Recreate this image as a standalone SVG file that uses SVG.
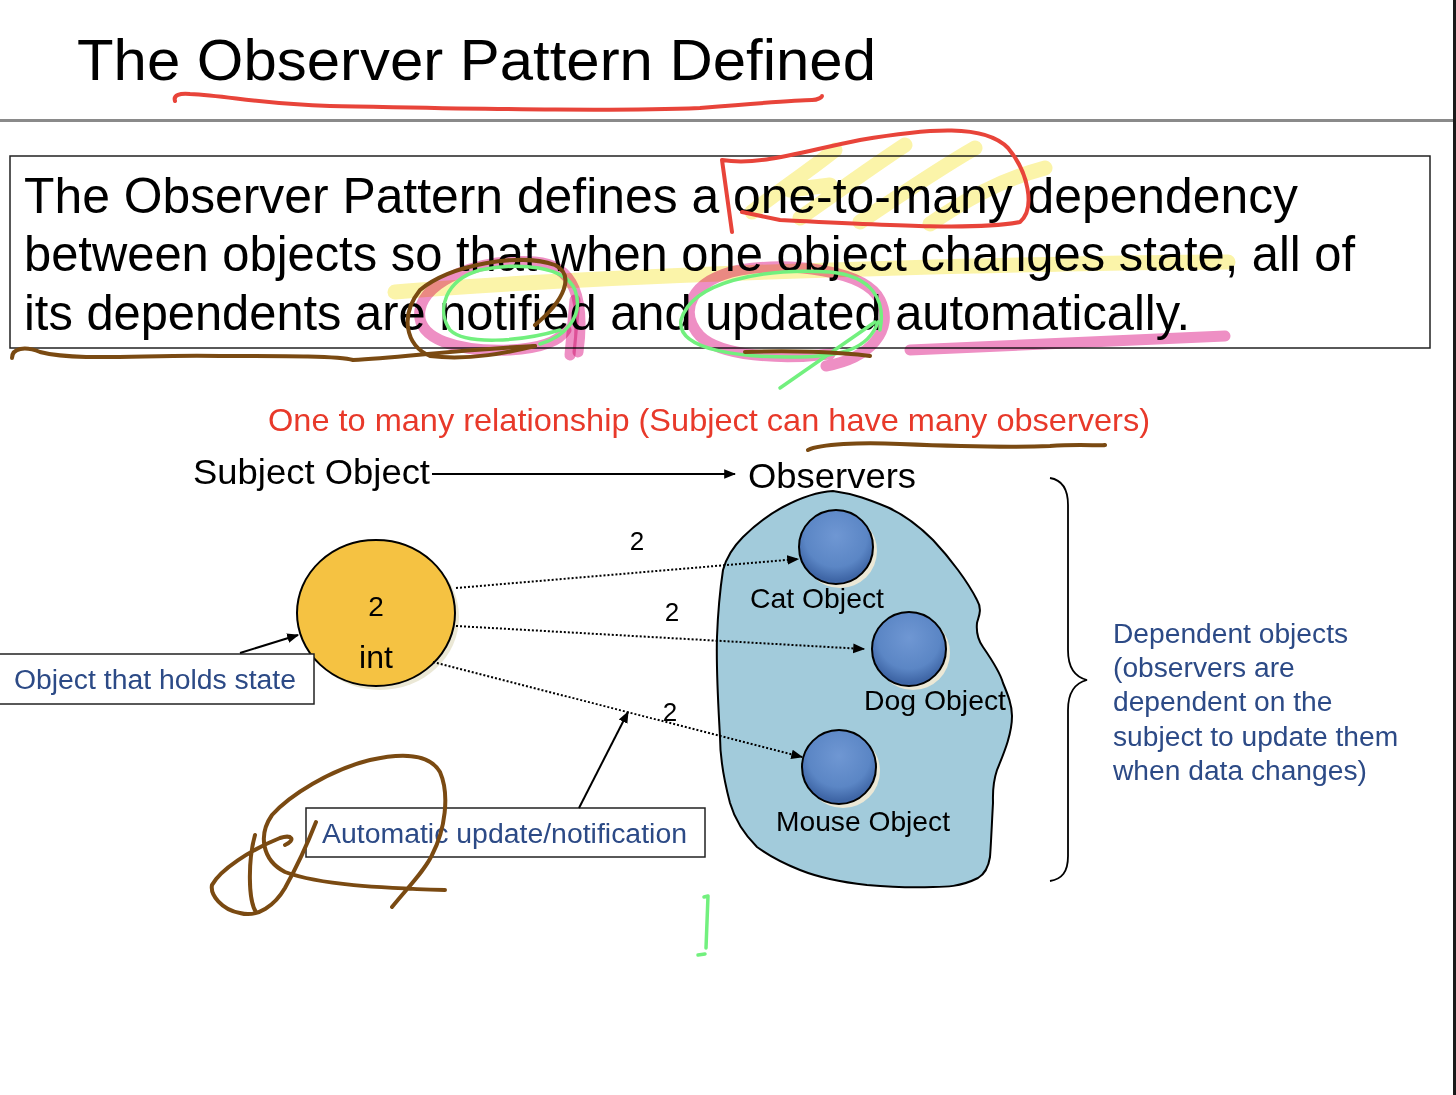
<svg xmlns="http://www.w3.org/2000/svg" width="1456" height="1095" viewBox="0 0 1456 1095">
<defs>
<style>
.sans{font-family:"Liberation Sans",Arial,sans-serif}
.blk{fill:#000}
.blue{fill:#2c4a86}
.box{fill:#fff;stroke:#222;stroke-width:1.5}
.dot{fill:none;stroke:#000;stroke-width:2;stroke-dasharray:2 2}
.ink{fill:none;stroke-linecap:round;stroke-linejoin:round}
.red{stroke:#e8443a;stroke-width:4}
.brown{stroke:#7a4a12;stroke-width:4}
.pink{stroke:#ee8fc4;stroke-width:11;mix-blend-mode:multiply}
.green{stroke:#72f07e;stroke-width:3.5}
.yel{stroke:#fbf29a;stroke-width:15;opacity:.85;mix-blend-mode:multiply}
.obs{fill:url(#ballG);stroke:#000;stroke-width:2}
.shadow{fill:#ebe8d6}
</style>
<radialGradient id="ballG" cx="50%" cy="35%" r="60%">
<stop offset="0" stop-color="#6f97d3"/>
<stop offset="0.7" stop-color="#5b86c5"/>
<stop offset="1" stop-color="#3f66a6"/>
</radialGradient>
<marker id="ahs" viewBox="0 0 10 10" refX="9" refY="5" markerWidth="12" markerHeight="12" markerUnits="userSpaceOnUse" orient="auto">
<path d="M0,1 L10,5 L0,9 z" fill="#000"/>
</marker>
</defs>
<rect x="0" y="0" width="1456" height="1095" fill="#fff"/>
<rect x="1453" y="0" width="3" height="1095" fill="#1a1a1a"/>

<g id="title">
<text class="sans blk" x="77" y="80" font-size="58" textLength="799" lengthAdjust="spacingAndGlyphs">The Observer Pattern Defined</text>
<rect x="0" y="119" width="1453" height="3" fill="#8a8a8a"/>
</g>

<g id="definition">
<rect class="box" x="10" y="156" width="1420" height="192"/>
<text class="sans blk" x="24" y="213" font-size="50" textLength="1274" lengthAdjust="spacingAndGlyphs">The Observer Pattern defines a one-to-many dependency</text>
<text class="sans blk" x="24" y="271" font-size="50" textLength="1331" lengthAdjust="spacingAndGlyphs">between objects so that when one object changes state, all of</text>
<text class="sans blk" x="24" y="330" font-size="50" textLength="1166" lengthAdjust="spacingAndGlyphs">its dependents are notified and updated automatically.</text>
</g>

<g id="relationship-label">
<text class="sans" fill="#e8392a" x="268" y="431" font-size="32" textLength="882" lengthAdjust="spacingAndGlyphs">One to many relationship (Subject can have many observers)</text>
</g>

<g id="subject-label">
<text class="sans blk" x="193" y="484" font-size="35" textLength="237" lengthAdjust="spacingAndGlyphs">Subject Object</text>
</g>
<g id="observers-label">
<text class="sans blk" x="748" y="488" font-size="35" textLength="168" lengthAdjust="spacingAndGlyphs">Observers</text>
</g>

<g id="observers-group">
<path d="M833,491 C855,494 870,500 887,507 C905,515 920,527 933,540 C950,558 968,582 977,600 C983,610 978,618 977,623 C976,633 978,640 983,647 C992,660 1000,672 1003,683 C1008,695 1012,705 1012,716 C1012,735 1003,755 997,770 C992,785 993,795 993,803 C992,820 991,845 990,857 C988,870 983,875 978,878 C960,887 945,887 933,887 C910,888 890,887 867,885 C840,882 820,878 800,870 C780,862 768,855 757,847 C745,835 735,820 730,803 C724,780 720,760 720,737 C718,700 716,670 717,637 C718,610 720,590 723,570 C727,555 735,545 743,537 C755,525 768,515 783,507 C800,498 815,492 833,491 Z" fill="#a2cbdb" stroke="#000" stroke-width="2"/>
</g>

<g id="subject">
<ellipse class="shadow" cx="380" cy="617" rx="79" ry="73"/>
<ellipse cx="376" cy="613" rx="79" ry="73" fill="#f5c242" stroke="#000" stroke-width="2"/>
<text class="sans blk" x="376" y="616" font-size="28" text-anchor="middle">2</text>
<text class="sans blk" x="376" y="668" font-size="32" text-anchor="middle">int</text>
</g>

<g id="cat">
<circle class="shadow" cx="840" cy="551" r="37"/>
<circle class="obs" cx="836" cy="547" r="37"/>
<text class="sans blk" x="817" y="608" font-size="28" text-anchor="middle" textLength="134" lengthAdjust="spacingAndGlyphs">Cat Object</text>
</g>
<g id="dog">
<circle class="shadow" cx="913" cy="653" r="37"/>
<circle class="obs" cx="909" cy="649" r="37"/>
<text class="sans blk" x="864" y="710" font-size="28" textLength="142" lengthAdjust="spacingAndGlyphs">Dog Object</text>
</g>
<g id="mouse">
<circle class="shadow" cx="843" cy="771" r="37"/>
<circle class="obs" cx="839" cy="767" r="37"/>
<text class="sans blk" x="776" y="831" font-size="28" textLength="174" lengthAdjust="spacingAndGlyphs">Mouse Object</text>
</g>

<g id="state-note">
<rect class="box" x="-2" y="654" width="316" height="50"/>
<text class="sans blue" x="14" y="689" font-size="27" textLength="282" lengthAdjust="spacingAndGlyphs">Object that holds state</text>
</g>

<g id="auto-note">
<rect class="box" x="306" y="808" width="399" height="49"/>
<text class="sans blue" x="322" y="843" font-size="27" textLength="365" lengthAdjust="spacingAndGlyphs">Automatic update/notification</text>
</g>

<g id="dependent-note">
<text class="sans blue" font-size="28.2">
<tspan x="1113" y="643">Dependent objects</tspan>
<tspan x="1113" y="677">(observers are</tspan>
<tspan x="1113" y="711">dependent on the</tspan>
<tspan x="1113" y="746">subject to update them</tspan>
<tspan x="1113" y="780">when data changes)</tspan>
</text>
</g>

<g id="connectors">
<line x1="432" y1="474" x2="735" y2="474" stroke="#000" stroke-width="2" marker-end="url(#ahs)"/>
<line class="dot" x1="456" y1="588" x2="798" y2="559" marker-end="url(#ahs)"/>
<line class="dot" x1="456" y1="626" x2="864" y2="649" marker-end="url(#ahs)"/>
<line class="dot" x1="433" y1="662" x2="802" y2="757" marker-end="url(#ahs)"/>
<text class="sans blk" x="637" y="550" font-size="26" text-anchor="middle">2</text>
<text class="sans blk" x="672" y="621" font-size="26" text-anchor="middle">2</text>
<text class="sans blk" x="670" y="721" font-size="26" text-anchor="middle">2</text>
<line x1="240" y1="653" x2="298" y2="635" stroke="#000" stroke-width="2" marker-end="url(#ahs)"/>
<line x1="579" y1="808" x2="628" y2="712" stroke="#000" stroke-width="2" marker-end="url(#ahs)"/>
<path d="M1050,478 C1062,480 1068,490 1068,505 L1068,650 C1068,668 1075,677 1087,680 C1075,683 1068,692 1068,710 L1068,856 C1068,872 1062,879 1050,881" fill="none" stroke="#000" stroke-width="1.8"/>
</g>

<g id="annotations">
<path class="ink yel" d="M752,212 C780,190 810,170 835,150 M800,218 C840,190 870,168 905,145 M860,222 C900,195 940,168 975,148 M930,224 C965,200 1000,180 1045,168 M790,190 L830,185"/>
<path class="ink yel" d="M395,292 C500,283 700,273 900,268 C1050,264 1180,262 1228,262"/>
<path class="ink red" d="M175,101 C173,95 180,93 190,94 C230,96 260,104 330,106 C450,108 600,112 700,108 C760,103 800,100 812,100 C818,100 822,97 822,96"/>
<path class="ink red" d="M732,232 L722,160 C760,166 800,152 860,140 C930,128 985,124 1008,148 C1028,172 1036,208 1020,222 C980,230 900,226 780,220 L742,212"/>
<path class="ink pink" d="M578,352 C585,300 575,265 535,262 C480,258 425,280 420,310 C415,340 460,352 510,350 C545,348 560,340 566,330"/>
<path class="ink pink" d="M575,300 L570,355"/>
<path class="ink pink" d="M826,366 C870,358 895,330 880,300 C865,270 790,262 740,270 C690,280 678,312 700,336 C720,356 780,360 830,354"/>
<path class="ink pink" d="M910,350 L1225,336"/>
<path class="ink green" d="M540,344 C562,338 585,318 575,290 C565,266 520,262 480,270 C445,280 436,310 450,330 C465,345 520,342 560,330"/>
<path class="ink green" d="M880,330 C886,300 872,276 830,272 C760,268 692,282 681,320 C676,350 740,358 800,357 C840,356 868,350 878,322"/>
<path class="ink green" d="M875,322 L780,388"/>
<path class="ink green" d="M704,897 L708,896 L706,948 M698,955 L705,954"/>
<path class="ink brown" d="M535,325 C565,300 575,275 555,265 C520,252 450,265 420,290 C400,315 405,345 430,356 C470,361 510,352 535,346"/>
<path class="ink brown" d="M12,358 C12,348 25,346 40,352 C80,362 150,354 220,356 C290,356 340,356 353,360 C400,358 450,350 535,346"/>
<path class="ink brown" d="M745,352 C790,350 840,352 870,356"/>
<path class="ink brown" d="M808,450 C820,444 860,442 900,444 C950,446 1000,448 1050,446 C1080,444 1100,446 1105,445"/>
<path class="ink brown" d="M392,907 C410,885 425,870 432,855 C445,830 450,795 440,772 C430,755 405,752 370,760 C330,770 290,795 272,815 C258,835 262,860 285,872 C320,885 380,888 445,890"/>
<path class="ink brown" d="M316,822 C305,850 295,870 285,888 C275,905 258,918 240,913 C222,910 210,895 212,885 C220,870 250,850 280,838 C292,834 296,840 285,845 M255,835 C248,860 248,900 256,912"/>
</g>
</svg>
